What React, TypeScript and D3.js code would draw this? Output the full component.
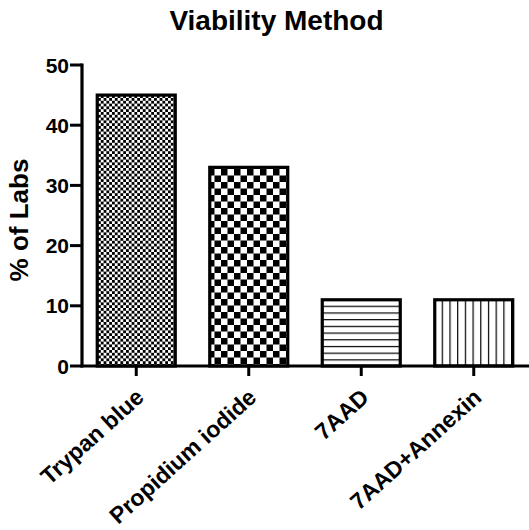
import React from "react";
import * as d3 from "d3";

const categories = ["Trypan blue", "Propidium iodide", "7AAD", "7AAD+Annexin"];
const values = [45, 33, 11, 11];
const yTicks = [0, 10, 20, 30, 40, 50];
const patterns = ["fineChecker", "coarseChecker", "hLines", "vLines"];

const W = 529;
const H = 530;
const axisX = 82;
const baseY = 366;
const topY = 65;

export default function App() {
  const x = d3.scaleBand<string>().domain(categories).range([80, 530]).paddingInner(0.3).paddingOuter(0.15);
  const y = d3.scaleLinear().domain([0, 50]).range([baseY, topY]);
  const step = x.step();
  const bw = 78;
  const font = "'Liberation Sans', Arial, sans-serif";

  return (
    <svg width={W} height={H} style={{ position: "absolute", left: 0, top: 0, background: "#fff" }}>
      <defs>
        <pattern id="fineChecker" width={5.6} height={5.6} patternUnits="userSpaceOnUse">
          <rect width={5.6} height={5.6} fill="#fff" />
          <rect width={2.8} height={2.8} fill="#000" />
          <rect x={2.8} y={2.8} width={2.8} height={2.8} fill="#000" />
        </pattern>
        <pattern id="coarseChecker" width={13} height={13} patternUnits="userSpaceOnUse">
          <rect width={13} height={13} fill="#fff" />
          <rect width={6.5} height={6.5} fill="#000" />
          <rect x={6.5} y={6.5} width={6.5} height={6.5} fill="#000" />
        </pattern>
        <pattern id="hLines" width={10} height={6.7} patternUnits="userSpaceOnUse" y={baseY}>
          <rect width={10} height={6.7} fill="#fff" />
          <rect y={0} width={10} height={1.2} fill="#000" />
        </pattern>
        <pattern id="vLines" width={7.7} height={10} patternUnits="userSpaceOnUse" x={434}>
          <rect width={7.7} height={10} fill="#fff" />
          <rect x={0} width={1.2} height={10} fill="#000" />
        </pattern>
      </defs>

      <text x={276.5} y={30} textAnchor="middle" fontFamily={font} fontWeight="bold" fontSize={28}>
        Viability Method
      </text>

      {categories.map((c, i) => {
        const cx = 80 + step * (i + 0.5);
        return (
          <rect
            key={c}
            x={cx - bw / 2}
            y={y(values[i])}
            width={bw}
            height={baseY - y(values[i])}
            fill={`url(#${patterns[i]})`}
            stroke="#000"
            strokeWidth={3.2}
          />
        );
      })}

      {/* axes */}
      <line x1={axisX} x2={axisX} y1={topY - 1.5} y2={baseY + 1.5} stroke="#000" strokeWidth={3.2} />
      <line x1={axisX - 1.5} x2={W} y1={baseY} y2={baseY} stroke="#000" strokeWidth={3.2} />

      {yTicks.map((t) => (
        <g key={t}>
          <line x1={axisX - 12} x2={axisX} y1={y(t)} y2={y(t)} stroke="#000" strokeWidth={3} />
          <text x={axisX - 13} y={y(t)} dy="0.36em" textAnchor="end" fontFamily={font} fontWeight="bold" fontSize={21}>
            {t}
          </text>
        </g>
      ))}

      {categories.map((c, i) => {
        const cx = 80 + step * (i + 0.5);
        return (
          <g key={c}>
            <line x1={cx} x2={cx} y1={baseY} y2={baseY + 10} stroke="#000" strokeWidth={3} />
            <text
              transform={`translate(${cx - 2},${baseY + 21}) rotate(-42)`}
              textAnchor="end"
              dy="0.72em"
              fontFamily={font}
              fontWeight="bold"
              fontSize={23}
            >
              {c}
            </text>
          </g>
        );
      })}

      <text
        transform={`translate(28,220) rotate(-90)`}
        textAnchor="middle"
        fontFamily={font}
        fontWeight="bold"
        fontSize={26}
      >
        % of Labs
      </text>
    </svg>
  );
}
